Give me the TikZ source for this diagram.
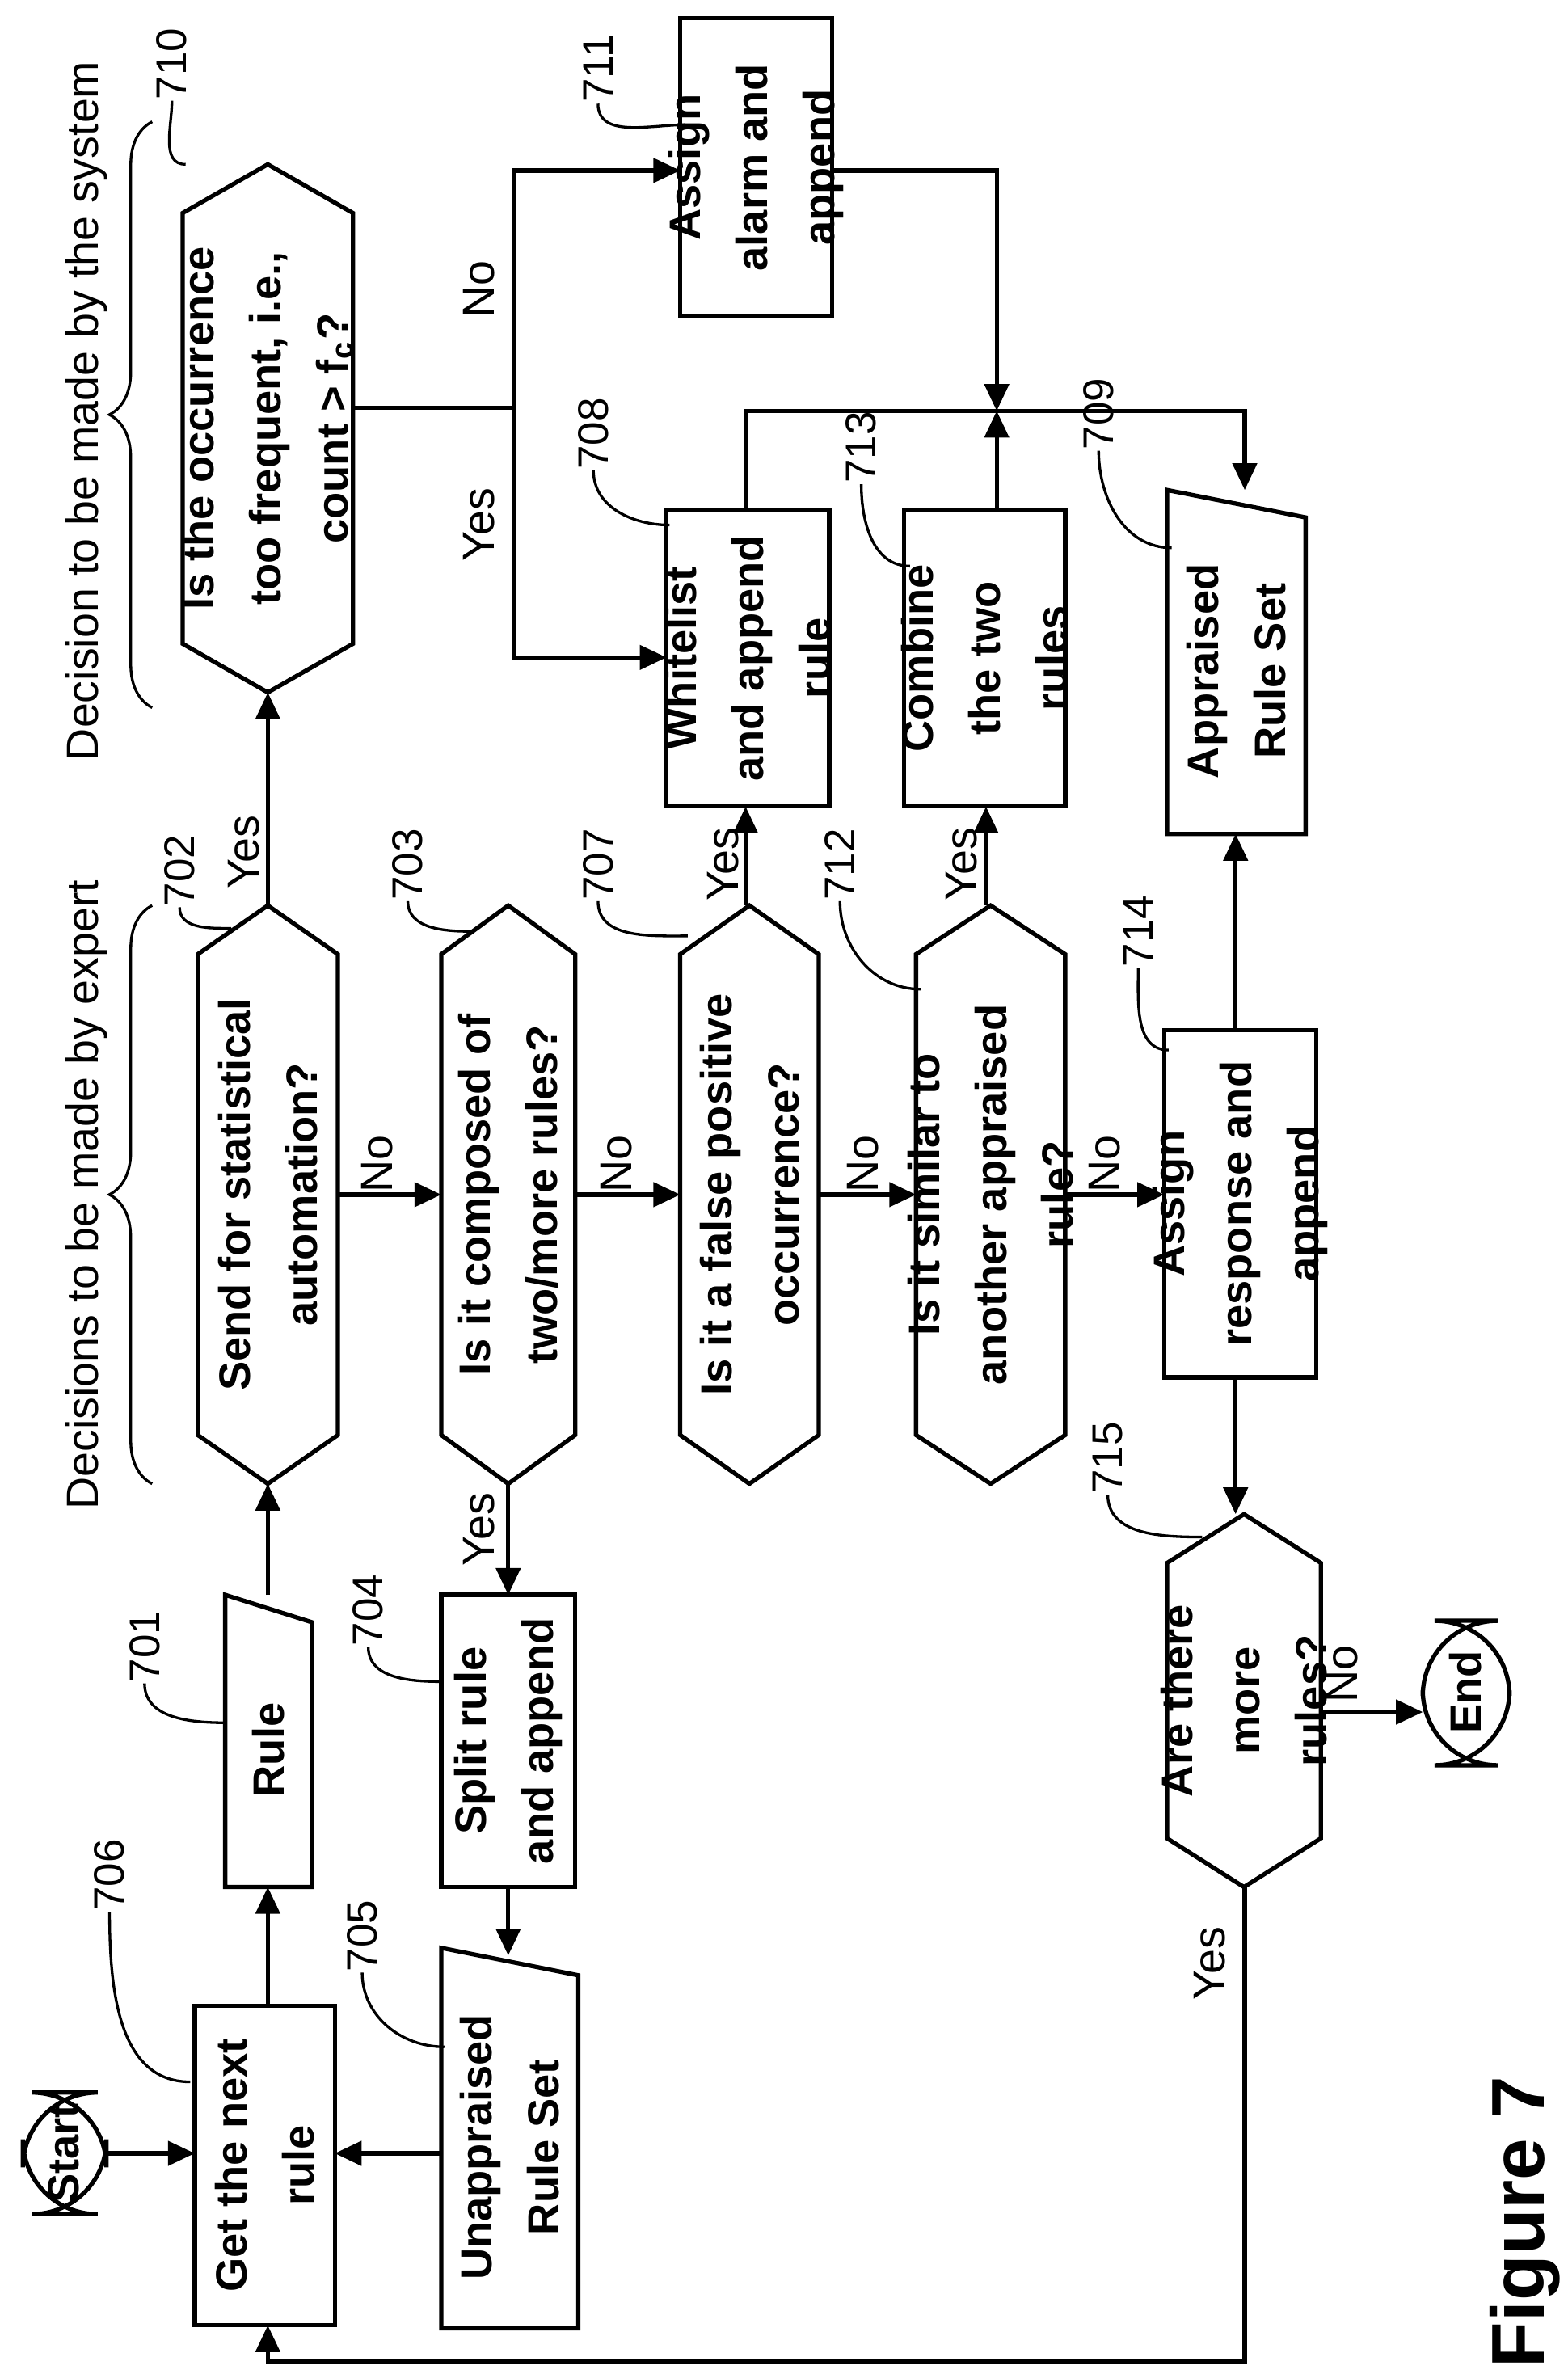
\documentclass[tikz,border=0pt]{standalone}
\usepackage{fontspec}
\setmainfont{Liberation Sans}
\usetikzlibrary{arrows.meta,decorations.pathreplacing}
\tikzset{
  txt/.style={rotate=90, align=center, font=\fontsize{8.2}{12.5}\selectfont\bfseries, inner sep=0pt},
  num/.style={rotate=90, font=\fontsize{8}{10}\selectfont, inner sep=0pt},
  box/.style={draw, line width=0.8pt},
  arr/.style={line width=0.8pt, -{Triangle[length=5pt,width=4.5pt]}},
  ln/.style={line width=0.8pt},
  lead/.style={line width=0.5pt}
}
% hexagon decision: name, x0, x1, y0, y1, text
\newcommand\hexnode[6]{%
  \draw[box] ({(#2+#3)/2},#4) -- (#3,{#4+32}) -- (#3,{#5-32}) -- ({(#2+#3)/2},#5)
    -- (#2,{#5-32}) -- (#2,{#4+32}) -- cycle;
  \node[txt] (#1) at ({(#2+#3)/2},{(#4+#5)/2}) {#6};}
% rectangle box
\newcommand\recnode[6]{%
  \draw[box] (#2,#4) rectangle (#3,#5);
  \node[txt] (#1) at ({(#2+#3)/2},{(#4+#5)/2}) {#6};}
% manual input (slanted top)
\newcommand\slnode[6]{%
  \draw[box] (#2,#4) -- (#3,{#4+18}) -- (#3,#5) -- (#2,#5) -- cycle;
  \node[txt] (#1) at ({(#2+#3)/2},{(#4+#5)/2+6}) {#6};}
\begin{document}
\begin{tikzpicture}[x=0.01cm, y=-0.01cm]
\useasboundingbox (0,0) rectangle (1030,1560);
% terminals
\draw[box, rounded corners=14pt] (15,1375) rectangle (70,1455);
\node[txt] (start) at (42,1415) {Start};
\draw[box, rounded corners=14pt] (935,1065) rectangle (992,1160);
\node[txt] (end) at (963,1112) {End};
% boxes
\recnode{getrule}{128}{220}{1318}{1528}{Get the next\\rule}
\slnode{rule}{148}{205}{1048}{1240}{Rule}
\recnode{split}{290}{378}{1048}{1240}{Split rule\\and append}
\slnode{unappr}{290}{380}{1280}{1530}{Unappraised\\Rule Set}
\hexnode{send}{130}{222}{595}{975}{Send for statistical\\automation?}
\hexnode{compo}{290}{378}{595}{975}{Is it composed of\\two/more rules?}
\hexnode{falsep}{447}{538}{595}{975}{Is it a false positive\\occurrence?}
\hexnode{simil}{602}{700}{595}{975}{Is it similar to\\another appraised\\rule?}
\hexnode{freq}{120}{232}{108}{455}{Is the occurrence\\too frequent, i.e.,\\count > f\textsubscript{c}?}
\hexnode{more}{767}{868}{995}{1240}{Are there\\more\\rules?}
\recnode{white}{438}{545}{335}{530}{Whitelist\\and append\\rule}
\recnode{combine}{594}{700}{335}{530}{Combine\\the two\\rules}
\recnode{alarm}{447}{547}{12}{208}{Assign\\alarm and\\append}
\recnode{resp}{765}{865}{677}{905}{Assign\\response and\\append}
\slnode{appr}{767}{858}{322}{548}{Appraised\\Rule Set}
% connectors
\draw[arr] (70,1415) -- (128,1415);
\draw[arr] (176,1318) -- (176,1240);
\draw[arr] (176,1048) -- (176,975);
\draw[arr] (176,595) -- (176,455);
\draw[arr] (222,785) -- (290,785);
\draw[arr] (334,975) -- (334,1048);
\draw[arr] (334,1240) -- (334,1285);
\draw[arr] (290,1415) -- (220,1415);
\draw[arr] (378,785) -- (447,785);
\draw[arr] (490,595) -- (490,530);
\draw[arr] (538,785) -- (602,785);
\draw[arr] (648,595) -- (648,530);
\draw[arr] (700,785) -- (765,785);
\draw[arr] (812,677) -- (812,548);
\draw[arr] (812,905) -- (812,995);
\draw[arr] (868,1125) -- (935,1125);
\draw[arr] (818,1240) -- (818,1552) -- (176,1552) -- (176,1528);
\draw[ln] (232,268) -- (338,268);
\draw[arr] (338,268) -- (338,112) -- (447,112);
\draw[arr] (338,268) -- (338,432) -- (438,432);
\draw[arr] (547,112) -- (655,112) -- (655,270);
\draw[arr] (490,335) -- (490,270) -- (818,270) -- (818,322);
\draw[arr] (655,335) -- (655,270);
% Yes / No labels
\foreach \x/\y/\t in {160/560/Yes, 248/765/No, 315/1005/Yes, 405/765/No, 475/568/Yes,
    567/765/No, 632/568/Yes, 726/765/No, 882/1100/No, 795/1290/Yes, 315/190/No, 315/345/Yes}
  \node[num, font=\fontsize{8.4}{10}\selectfont] at (\x,\y) {\t};
% braces
\draw[lead, decorate, decoration={brace, amplitude=8pt}] (100,975) -- (100,595);
\node[num, font=\fontsize{8.4}{10}\selectfont] (expert) at (57,785) {Decisions to be made by expert};
\draw[lead, decorate, decoration={brace, amplitude=8pt}] (100,465) -- (100,80);
\node[num, font=\fontsize{8.4}{10}\selectfont] (system) at (57,270) {Decision to be made by the system};
% reference numbers
\foreach \n/\x/\y/\ex/\ey in {706/72/1232/125/1368, 701/95/1082/148/1132, 705/238/1272/292/1345,
    704/242/1058/290/1105, 702/118/572/152/610, 703/268/568/310/612, 707/393/568/452/615,
    712/552/568/605/650, 714/748/612/768/690, 715/728/958/790/1010, 709/722/272/770/360,
    713/566/294/598/372, 708/390/285/440/345, 711/393/45/450/82, 710/113/42/122/108}
{
  \node[num] (n\n) at (\x,\y) {\n};
  \draw[lead] (n\n.west) to[out=-90,in=180] (\ex,\ey);
}
\node[rotate=90, font=\fontsize{14}{16}\selectfont\bfseries] (fig) at (1002,1460) {Figure 7};
\end{tikzpicture}
\end{document}
